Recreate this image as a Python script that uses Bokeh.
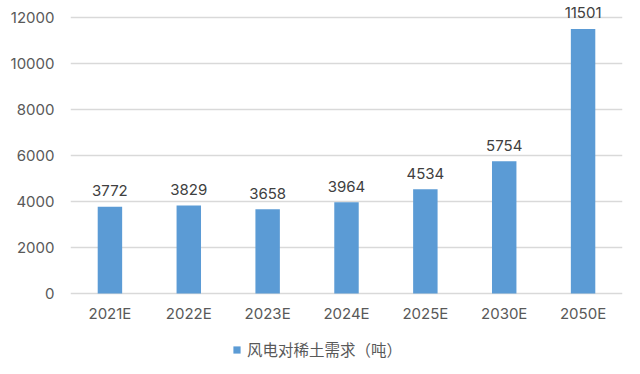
from bokeh.plotting import figure
from bokeh.models import ColumnDataSource, Legend, LegendItem, LabelSet, Range1d, FixedTicker
from bokeh.core.properties import value
from bokeh.embed import file_html
from bokeh.resources import INLINE

categories = ["2021E", "2022E", "2023E", "2024E", "2025E", "2030E", "2050E"]
demand = [3772, 3829, 3658, 3964, 4534, 5754, 11501]
y_ticks = [0, 2000, 4000, 6000, 8000, 10000, 12000]
series_name = "风电对稀土需求（吨）"

src = ColumnDataSource(dict(cat=categories, val=demand, lab=[str(v) for v in demand],
                            base=[0] * len(categories)))

# 12000 at y=17, 0 at y=293; frame spans y=1..366 so labels and legend are not clipped
px_per_unit = 276 / 12000
y_start = -(366 - 293) / px_per_unit
y_end = 12000 + (17 - 1) / px_per_unit

p = figure(x_range=categories, y_range=Range1d(y_start, y_end), width=640, height=374,
           output_backend="svg", toolbar_location=None,
           min_border_left=70, min_border_right=18, min_border_top=1, min_border_bottom=8)
p.outline_line_color = None
p.background_fill_color = "white"
p.border_fill_color = "white"

r = p.vbar(x="cat", top="val", width=0.31, source=src, fill_color="#5B9BD5", line_color=None)

labels = LabelSet(x="cat", y="val", text="lab", source=src, text_align="center",
                  text_baseline="middle", y_offset=16, text_font_size="15px",
                  text_color="#404040", text_font=value("Inter"))
p.add_layout(labels)

cat_labels = LabelSet(x="cat", y="base", text="cat", source=src, text_align="center",
                      text_baseline="middle", y_offset=-20, text_font_size="15px",
                      text_color="#595959", text_font=value("Inter"))
p.add_layout(cat_labels)

p.xaxis.visible = False
p.yaxis.ticker = FixedTicker(ticks=y_ticks)
ax = p.yaxis
ax.axis_line_color = None
ax.major_tick_line_color = None
ax.minor_tick_line_color = None
ax.major_label_text_font_size = "15px"
ax.major_label_text_color = "#595959"
ax.major_label_text_font = "Inter"
ax.major_label_standoff = 10
p.xgrid.grid_line_color = None
p.ygrid.grid_line_color = "#D9D9D9"
p.ygrid.grid_line_width = 1.5

legend = Legend(items=[LegendItem(label=series_name, renderers=[r])],
                location=(162, 6), orientation="horizontal",
                glyph_width=9, glyph_height=9, label_text_font_size="15.5px",
                label_text_color="#595959", label_text_font="Noto Sans CJK SC",
                border_line_color=None, background_fill_alpha=0,
                margin=0, padding=4, label_standoff=6)
p.add_layout(legend, "center")

open("out.html", "w").write(file_html(p, INLINE))
